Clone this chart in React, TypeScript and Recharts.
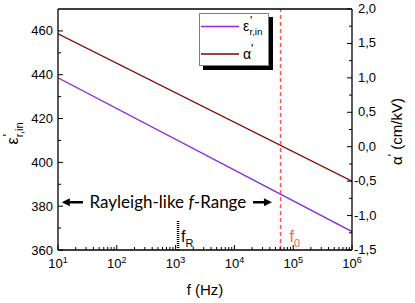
import {
  ComposedChart,
  Line,
  XAxis,
  YAxis,
  Legend,
  ReferenceLine,
  ReferenceDot,
} from "recharts";

const freqHz = [10, 1e6];
const epsRin = [438.6, 368.4];
const alphaPrime = [1.64, -0.5];

const xMajor = [10, 100, 1e3, 1e4, 1e5, 1e6];
const xMinorMult = [1, 2, 3, 4, 5, 6, 7, 8, 9];
const epsTicks = [360, 370, 380, 390, 400, 410, 420, 430, 440, 450, 460];
const alphaTicks = [-1.5, -1.25, -1, -0.75, -0.5, -0.25, 0, 0.25, 0.5, 0.75, 1, 1.25, 1.5, 1.75, 2];
const legendOrder = ["eps", "alpha"];

// annotation values (data units)
const f0 = 6.1e4;
const fR = 1.1e3;
const fRTop = 373.7;
const rangeY = 381.8;
const leftArrow = [11.6, 26.6];
const rightArrow = [2.07e4, 4.35e4];
const rangeTextX = 741;

const data = freqHz.map((f, i) => ({ f, eps: epsRin[i], alpha: alphaPrime[i] }));
const xTicks = xMajor.flatMap((d, i) =>
  i < xMajor.length - 1 ? xMinorMult.map((m) => m * d) : [d]
);

const FONT = "'Liberation Sans', Arial, sans-serif";
const PURPLE = "#8a2be2";
const BROWN = "#800000";
const RED = "#ff5555";

const isDecade = (v: number) => {
  const e = Math.log10(v);
  return Math.abs(e - Math.round(e)) < 1e-6;
};

const BottomTick = ({ x, y, payload }: any) => {
  const v = payload.value;
  const major = isDecade(v);
  return (
    <g>
      <line x1={x} x2={x} y1={y} y2={y - (major ? 5 : 3)} stroke="#000" />
      {major && (
        <text x={x} y={y + 18} textAnchor="middle" fontSize={13} fontFamily={FONT} fill="#000">
          10
          <tspan dy={-5} fontSize={9}>
            {Math.round(Math.log10(v))}
          </tspan>
        </text>
      )}
    </g>
  );
};

const TopTick = ({ x, y, payload }: any) => {
  const major = isDecade(payload.value);
  return <line x1={x} x2={x} y1={y} y2={y + (major ? 5 : 3)} stroke="#000" />;
};

const LeftTick = ({ x, y, payload }: any) => {
  const v = payload.value;
  const major = (v - 360) % 20 === 0;
  return (
    <g>
      <line x1={x} x2={x + (major ? 5 : 3)} y1={y} y2={y} stroke="#000" />
      {major && (
        <text x={x - 5} y={y} dy={4.5} textAnchor="end" fontSize={13} fontFamily={FONT} fill="#000">
          {v}
        </text>
      )}
    </g>
  );
};

const RightTick = ({ x, y, payload }: any) => {
  const v = payload.value;
  const major = Math.abs(v * 2 - Math.round(v * 2)) < 1e-6;
  return (
    <g>
      <line x1={x} x2={x - (major ? 5 : 3)} y1={y} y2={y} stroke="#000" />
      {major && (
        <text x={x + (v < 0 ? 2 : 6)} y={y} dy={4} textAnchor="start" fontSize={13} fontFamily={FONT} fill="#000">
          {v.toFixed(1).replace(".", ",")}
        </text>
      )}
    </g>
  );
};

const XTitle = ({ viewBox }: any) => (
  <text x={viewBox.x + viewBox.width / 2} y={viewBox.y + 45} textAnchor="middle" fontSize={15} fontFamily={FONT} fill="#000">
    f (Hz)
  </text>
);

// ε'_{r,in}: prime stacked above the subscript, all in one text
const EpsLabel = ({ x, y, size }: { x: number; y: number; size: number }) => (
  <text x={x} y={y} fontSize={size} fontFamily={FONT} fill="#000">
    ε
    <tspan dx={size * 0.05} dy={-size * 0.4} fontSize={size * 0.85}>'</tspan>
    <tspan dx={-size * 0.2} dy={size * 0.7} fontSize={size * 0.7}>r,in</tspan>
  </text>
);

const LeftTitle = ({ viewBox }: any) => {
  const cx = viewBox.x + 16;
  const cy = viewBox.y + viewBox.height / 2;
  return (
    <g transform={`rotate(-90 ${cx} ${cy})`}>
      <EpsLabel x={cx - 15} y={cy + 2} size={16} />
    </g>
  );
};

const RightTitle = ({ viewBox }: any) => {
  const cx = viewBox.x + 45;
  const cy = viewBox.y + viewBox.height / 2 + 2;
  return (
    <text transform={`rotate(-90 ${cx} ${cy})`} x={cx} y={cy + 5} textAnchor="middle" fontSize={15} fontFamily={FONT} fill="#000">
      α<tspan dy={-5} fontSize={12}>'</tspan>
      <tspan dy={5}> (cm/kV)</tspan>
    </text>
  );
};

const LegendBox = ({ payload }: any) => {
  const items = [...(payload || [])].sort(
    (a: any, b: any) => legendOrder.indexOf(a.dataKey) - legendOrder.indexOf(b.dataKey)
  );
  return (
    <svg width={76} height={58} style={{ display: "block" }}>
      <rect x={4} y={4} width={70} height={53} fill="#000" />
      <rect x={0.5} y={0.5} width={69} height={52} fill="#fff" stroke="#808080" />
      {items.map((p: any, i: number) => {
        const cy = 13.5 + i * 27.5;
        return (
          <g key={p.dataKey}>
            <line x1={2} x2={40} y1={cy} y2={cy} stroke={p.color} strokeWidth={1.5} />
            {p.dataKey === "eps" ? (
              <EpsLabel x={44} y={cy + 4} size={14} />
            ) : (
              <text x={44} y={cy + 5} fontSize={14} fontFamily={FONT} fill="#000">
                α<tspan dy={-6} fontSize={12}>'</tspan>
              </text>
            )}
          </g>
        );
      })}
    </svg>
  );
};

const Arrow = (dir: "left" | "right") => (props: any) => {
  const { x1, y1, x2, y2 } = props;
  const head = dir === "left" ? Math.min(x1, x2) : Math.max(x1, x2);
  const tail = dir === "left" ? Math.max(x1, x2) : Math.min(x1, x2);
  const s = dir === "left" ? 1 : -1;
  const y = (y1 + y2) / 2;
  return (
    <g>
      <line x1={tail} x2={head + s * 6} y1={y} y2={y} stroke="#000" strokeWidth={2.5} />
      <polygon points={`${head},${y} ${head + s * 8},${y - 4} ${head + s * 8},${y + 4}`} fill="#000" />
    </g>
  );
};

const RangeText = ({ cx, cy }: any) => (
  <text x={cx} y={cy + 6} textAnchor="middle" fontSize={17} fontFamily="Lato, 'Open Sans', sans-serif" fill="#000">
    Rayleigh-like <tspan fontStyle="italic">f</tspan>-Range
  </text>
);

const FRText = ({ cx, cy }: any) => (
  <text x={cx + 3} y={cy - 8} fontSize={16} fontFamily={FONT} fill="#000">
    f<tspan dy={5} fontSize={11}>R</tspan>
  </text>
);

const F0Text = ({ cx, cy }: any) => (
  <text x={cx + 9} y={cy - 8} fontSize={16} fontFamily={FONT} fill={RED}>
    f<tspan dy={5} fontSize={11}>0</tspan>
  </text>
);

export default function App() {
  return (
    <div style={{ position: "absolute", left: 0, top: 0, background: "#fff" }}>
      <ComposedChart width={415} height={303} data={data} margin={{ top: 8, right: 0, bottom: 0, left: 0 }}>
        <XAxis
          dataKey="f"
          type="number"
          scale="log"
          domain={[10, 1e6]}
          ticks={xTicks}
          interval={0}
          allowDataOverflow
          tickSize={0}
          tickMargin={0}
          tickLine={false}
          axisLine={{ stroke: "#000", strokeWidth: 1.3 }}
          tick={<BottomTick />}
          height={53}
          label={<XTitle />}
        />
        <XAxis
          xAxisId="top"
          orientation="top"
          type="number"
          scale="log"
          domain={[10, 1e6]}
          ticks={xTicks}
          interval={0}
          allowDataOverflow
          tickSize={0}
          tickMargin={0}
          tickLine={false}
          axisLine={{ stroke: "#000", strokeWidth: 1.3 }}
          tick={<TopTick />}
          height={1}
        />
        <YAxis
          yAxisId="eps"
          type="number"
          domain={[360, 470]}
          ticks={epsTicks}
          interval={0}
          allowDataOverflow
          tickSize={0}
          tickMargin={0}
          tickLine={false}
          axisLine={{ stroke: "#000", strokeWidth: 1.3 }}
          tick={<LeftTick />}
          width={58}
          label={<LeftTitle />}
        />
        <YAxis
          yAxisId="alpha"
          orientation="right"
          type="number"
          domain={[-1.5, 2]}
          ticks={alphaTicks}
          interval={0}
          allowDataOverflow
          tickSize={0}
          tickMargin={0}
          tickLine={false}
          axisLine={{ stroke: "#000", strokeWidth: 1.3 }}
          tick={<RightTick />}
          width={63}
          label={<RightTitle />}
        />
        <Legend
          layout="horizontal"
          verticalAlign="middle"
          align="center"
          width={76}
          height={58}
          wrapperStyle={{ left: 199, top: 13, width: 76, height: 58 }}
          content={<LegendBox />}
        />
        <Line
          yAxisId="eps"
          dataKey="eps"
          name="eps"
          stroke={PURPLE}
          strokeWidth={1.3}
          dot={false}
          isAnimationActive={false}
        />
        <Line
          yAxisId="alpha"
          dataKey="alpha"
          name="alpha"
          stroke={BROWN}
          strokeWidth={1.3}
          dot={false}
          isAnimationActive={false}
        />
        <ReferenceLine yAxisId="eps" x={f0} stroke={RED} strokeWidth={1.5} strokeDasharray="4 3" />
        <ReferenceLine
          yAxisId="eps"
          segment={[{ x: fR, y: 360 }, { x: fR, y: fRTop }]}
          stroke="#000"
          strokeWidth={2.5}
          strokeDasharray="1 1"
        />
        <ReferenceLine
          yAxisId="eps"
          segment={[{ x: leftArrow[0], y: rangeY }, { x: leftArrow[1], y: rangeY }]}
          shape={Arrow("left")}
        />
        <ReferenceLine
          yAxisId="eps"
          segment={[{ x: rightArrow[0], y: rangeY }, { x: rightArrow[1], y: rangeY }]}
          shape={Arrow("right")}
        />
        <ReferenceDot yAxisId="eps" x={rangeTextX} y={rangeY} r={0} shape={<RangeText />} />
        <ReferenceDot yAxisId="eps" x={fR} y={360} r={0} shape={<FRText />} />
        <ReferenceDot yAxisId="eps" x={f0} y={360} r={0} shape={<F0Text />} />
      </ComposedChart>
    </div>
  );
}
